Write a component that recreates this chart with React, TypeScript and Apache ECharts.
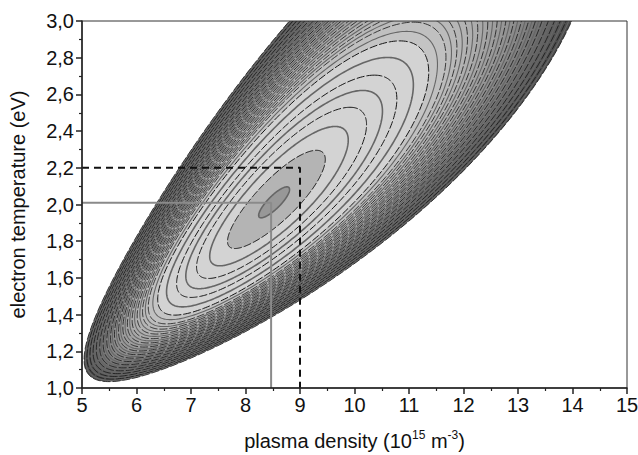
import React, { useEffect, useRef } from "react";
import * as echarts from "echarts";

// Tick labels
const X_TICKS = [5, 6, 7, 8, 9, 10, 11, 12, 13, 14, 15];
const Y_TICKS = [1.0, 1.2, 1.4, 1.6, 1.8, 2.0, 2.2, 2.4, 2.6, 2.8, 3.0];

// Fitted surface (minimum and shape of the contour family)
const MIN_DENSITY = 8.52; // 10^15 m^-3
const MIN_TEMP = 2.01; // eV
const RIDGE_SLOPE = 0.66; // d ln n / d ln T along the valley
const WIDTH_LN_N = 0.29; // half width (ln n) of outermost contour
const LENGTH_LN_T = 0.664; // half length (ln T) of outermost contour

// Contour levels (normalised deviation)
const LEVELS = [
  0.004, 0.04, 0.08, 0.12, 0.16, 0.2, 0.25, 0.3, 0.33, 0.36, 0.38, 0.4, 0.42,
  0.44, 0.46, 0.48, 0.5, 0.52, 0.54, 0.56, 0.58, 0.6, 0.62, 0.64, 0.66, 0.68,
  0.7, 0.72, 0.74, 0.76, 0.78, 0.8, 0.82, 0.84, 0.86, 0.88, 0.9, 0.92, 0.94,
  0.96, 0.98, 1.0,
];

// Marked values
const DASH_PATH = [
  [5, 2.2],
  [9, 2.2],
  [9, 1.0],
];
const GREY_PATH = [
  [5, 2.01],
  [8.47, 2.01],
  [8.47, 1.0],
];

const FONT = "'Liberation Sans', Arial, Helvetica, sans-serif";

function fillFor(idx: number, f: number): string {
  if (idx === 0) return "#989898";
  if (idx === 1) return "#b4b4b4";
  if (f <= 0.3) return "#d3d3d3";
  const t = (f - 0.3) / 0.7;
  const g = Math.round(200 - 125 * Math.pow(t, 1.1));
  return `rgb(${g},${g},${g})`;
}

export default function App() {
  const ref = useRef<HTMLDivElement>(null);
  useEffect(() => {
    if (!ref.current) return;
    const chart = echarts.init(ref.current, undefined, { renderer: "svg" });
    const order = LEVELS.map((f, i) => ({ f, i })).reverse();
    const option: any = {
      animation: false,
      backgroundColor: "#fff",
      grid: {
        left: 82,
        right: 11,
        top: 21,
        bottom: 67,
        containLabel: false,
        outerBoundsMode: "none",
        show: true,
        borderColor: "#333",
        borderWidth: 1,
        z: 10,
      },
      xAxis: {
        type: "value",
        min: 5,
        max: 15,
        interval: 1,
        z: 10,
        axisLine: { lineStyle: { color: "#222", width: 1.5 } },
        axisTick: { length: 6, lineStyle: { color: "#222", width: 1.5 } },
        minorTick: { show: true, splitNumber: 2, length: 3, lineStyle: { color: "#222", width: 1.2 } },
        splitLine: { show: false },
        axisLabel: {
          fontFamily: FONT,
          fontSize: 20,
          color: "#111",
          margin: 7,
          formatter: (v: number) => (X_TICKS.includes(v) ? String(v) : ""),
        },
        name: "plasma density (10{sup|15} m{sup|-3})",
        nameLocation: "middle",
        nameGap: 41,
        nameTextStyle: {
          fontFamily: FONT,
          fontSize: 20,
          color: "#111",
          lineHeight: 24,
          rich: {
            sup: { fontFamily: FONT, fontSize: 12, color: "#111", verticalAlign: "top", lineHeight: 13 },
          },
        },
      },
      yAxis: {
        type: "value",
        min: 1,
        max: 3,
        interval: 0.2,
        z: 10,
        axisLine: { show: true, lineStyle: { color: "#222", width: 1.5 } },
        axisTick: { show: true, length: 6, lineStyle: { color: "#222", width: 1.5 } },
        minorTick: { show: true, splitNumber: 2, length: 3, lineStyle: { color: "#222", width: 1.2 } },
        splitLine: { show: false },
        axisLabel: {
          fontFamily: FONT,
          fontSize: 20,
          color: "#111",
          margin: 8,
          formatter: (v: number) => {
            const m = Y_TICKS.find((t) => Math.abs(t - v) < 1e-6);
            return m === undefined ? "" : m.toFixed(1).replace(".", ",");
          },
        },
        name: "electron temperature (eV)",
        nameLocation: "middle",
        nameGap: 52,
        nameTextStyle: { fontFamily: FONT, fontSize: 20, color: "#111", lineHeight: 24 },
      },
      series: [
        {
          type: "custom",
          z: 2,
          clip: true,
          encode: { x: 0, y: 1 },
          data: order.map((o) => [MIN_DENSITY, MIN_TEMP, o.f, o.i]),
          renderItem: (params: any, api: any) => {
            const item = order[params.dataIndex];
            const s = Math.sqrt(item.f);
            const pts: number[][] = [];
            const N = 300;
            for (let j = 0; j < N; j++) {
              const th = (2 * Math.PI * j) / N;
              const v = LENGTH_LN_T * s * Math.cos(th);
              const u = RIDGE_SLOPE * v + WIDTH_LN_N * s * Math.sin(th);
              pts.push(api.coord([MIN_DENSITY * Math.exp(u), MIN_TEMP * Math.exp(v)]));
            }
            const grey = item.i % 2 === 0;
            const dense = item.f > 0.31;
            const cs = params.coordSys;
            return {
              type: "polygon",
              shape: { points: pts },
              clipPath: { type: "rect", shape: { x: cs.x, y: cs.y, width: cs.width, height: cs.height } },
              style: {
                fill: fillFor(item.i, item.f),
                stroke: grey ? "#666" : "#151515",
                lineWidth: grey ? (dense ? 1.1 : 1.6) : dense ? 0.8 : 1,
                lineDash: grey ? null : [8, 2],
              },
            };
          },
        },
        {
          type: "line",
          z: 4,
          data: DASH_PATH,
          symbol: "none",
          lineStyle: { color: "#111", width: 2, type: [7, 5] },
        },
        {
          type: "line",
          z: 4,
          data: GREY_PATH,
          symbol: "none",
          lineStyle: { color: "#8a8a8a", width: 2 },
        },
      ],
    };
    chart.setOption(option);
    return () => chart.dispose();
  }, []);
  return (
    <div
      ref={ref}
      style={{ position: "fixed", left: 0, top: 0, width: 638, height: 455, background: "#fff" }}
    />
  );
}
